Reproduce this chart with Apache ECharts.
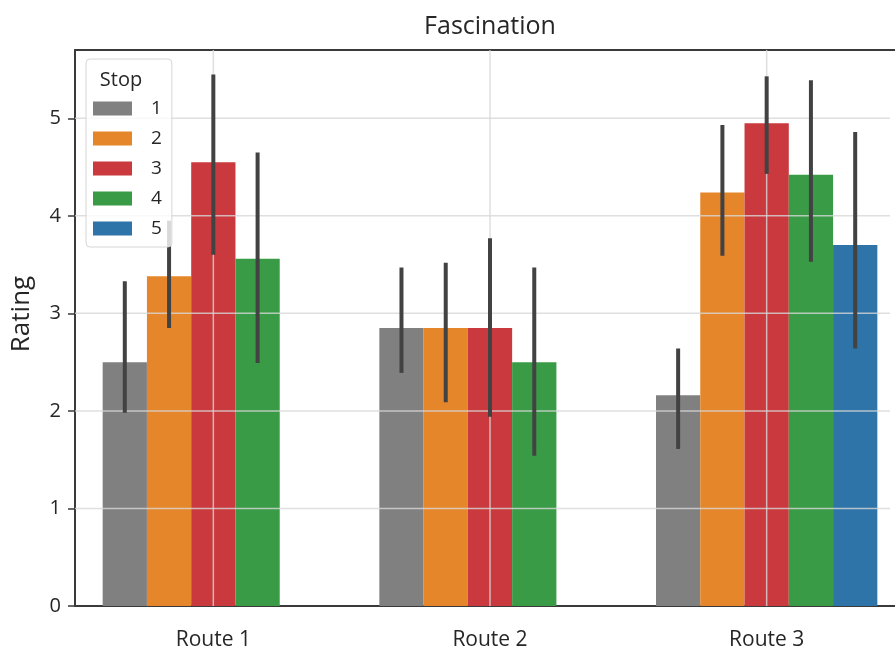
<!DOCTYPE html>
<html>
<head>
<meta charset="utf-8">
<script src="https://cdn.jsdelivr.net/npm/echarts@6/dist/echarts.min.js"></script>
<style>
  html, body { margin: 0; padding: 0; background: #fff; }
  #main { width: 895px; height: 653px; }
</style>
</head>
<body>
<div id="main"></div>
<script>
// data
const routes = ['Route 1', 'Route 2', 'Route 3'];
const stops = ['1', '2', '3', '4', '5'];
const stopColors = ['#808080', '#e6862a', '#c9393d', '#3a9b46', '#2f74a8'];

// mean rating per stop, one value per route
const stop1 = [2.50, 2.85, 2.16];
const stop2 = [3.38, 2.85, 4.24];
const stop3 = [4.55, 2.85, 4.95];
const stop4 = [3.56, 2.50, 4.42];
const stop5 = [null, null, 3.70];

// confidence interval ends
const ciLow1 = [1.98, 2.39, 1.61];
const ciHigh1 = [3.33, 3.47, 2.64];
const ciLow2 = [2.85, 2.09, 3.59];
const ciHigh2 = [3.95, 3.52, 4.93];
const ciLow3 = [3.60, 1.94, 4.43];
const ciHigh3 = [5.45, 3.77, 5.43];
const ciLow4 = [2.49, 1.54, 3.53];
const ciHigh4 = [4.65, 3.47, 5.39];
const ciLow5 = [null, null, 2.64];
const ciHigh5 = [null, null, 4.86];

const yTicks = [0, 1, 2, 3, 4, 5];

const means = [stop1, stop2, stop3, stop4, stop5];
const lows = [ciLow1, ciLow2, ciLow3, ciLow4, ciLow5];
const highs = [ciHigh1, ciHigh2, ciHigh3, ciHigh4, ciHigh5];

const font = '"Open Sans", "Noto Sans", sans-serif';
const spine = { color: '#3a3a3a', width: 2 };
const gridColor = 'rgba(215,215,215,0.8)';

// error bar rows: [route index, low, high, stop index]
let errData = [];
lows.forEach((arr, s) => {
  arr.forEach((lo, r) => {
    if (lo != null) errData.push([r, lo, highs[s][r], s]);
  });
});

let barSeries = means.map((vals, s) => ({
  name: stops[s],
  type: 'bar',
  data: vals.map(v => (v == null ? '-' : v)),
  barGap: '0%',
  barCategoryGap: '20%',
  itemStyle: { color: stopColors[s] },
  z: 2
}));

// grid lines sit on top of the bars (as in the seaborn figure)
let gridSeries = [
  {
    type: 'custom',
    name: 'vgrid',
    z: 3, silent: true,
    data: routes.map((r, i) => [i, 0]),
    encode: { x: 0, y: 1 },
    renderItem: function (params, api) {
      const cs = params.coordSys;
      const x = api.coord([api.value(0), 0])[0];
      return {
        type: 'line',
        shape: { x1: x, y1: cs.y, x2: x, y2: cs.y + cs.height },
        style: { stroke: gridColor, lineWidth: 1.5 }
      };
    }
  },
  {
    type: 'custom',
    name: 'hgrid',
    z: 3, silent: true,
    data: yTicks.filter(v => v > 0).map(v => [0, v]),
    encode: { x: 0, y: 1 },
    renderItem: function (params, api) {
      const cs = params.coordSys;
      const y = api.coord([0, api.value(1)])[1];
      return {
        type: 'line',
        shape: { x1: cs.x, y1: y, x2: cs.x + cs.width, y2: y },
        style: { stroke: gridColor, lineWidth: 1.5 }
      };
    }
  }
];

let myChart = echarts.init(document.getElementById('main'));

let option = {
  animation: false,
  title: [
    {
      text: 'Fascination',
      left: 490, top: 14, padding: 0,
      textAlign: 'center',
      textStyle: { fontFamily: font, fontSize: 25, fontWeight: 'normal', color: '#262626' },
      z: 7
    },
    {
      text: 'Stop',
      left: 121, top: 70, padding: 0,
      textAlign: 'center',
      textStyle: { fontFamily: font, fontSize: 20, fontWeight: 'normal', color: '#262626' },
      z: 7
    }
  ],
  // the plot runs past the right edge of the picture: mask the stray edge line
  graphic: [{
    type: 'rect',
    right: 0, top: 52,
    shape: { width: 5, height: 552 },
    style: { fill: '#fff' },
    z: 100, silent: true
  }],
  legend: {
    data: stops,
    orient: 'vertical',
    left: 86, top: 59,
    padding: [40, 10, 9, 7],
    itemWidth: 39, itemHeight: 14, itemGap: 11,
    icon: 'rect',
    backgroundColor: 'rgba(255,255,255,0.8)',
    borderColor: '#d6d6d6', borderWidth: 1, borderRadius: 4,
    textStyle: { fontFamily: font, fontSize: 19, color: '#262626', padding: [0, 0, 0, 14] },
    z: 6
  },
  grid: {
    left: 75, top: 50, width: 830, height: 556,
    outerBoundsMode: 'none'
  },
  xAxis: [
    {
      type: 'category',
      data: routes,
      axisLine: { lineStyle: spine },
      axisTick: { alignWithLabel: true, length: 7, lineStyle: { color: '#3a3a3a', width: 1.5 } },
      axisLabel: { fontFamily: font, fontSize: 21, color: '#262626', margin: 24 },
      splitLine: { show: false }
    },
    {
      // top spine only
      type: 'category',
      data: routes,
      position: 'top',
      axisLine: { lineStyle: spine },
      axisTick: { show: false },
      axisLabel: { show: false },
      splitLine: { show: false }
    }
  ],
  yAxis: {
    type: 'value',
    min: 0, max: 5.7, interval: 1,
    name: 'Rating',
    nameLocation: 'middle',
    nameGap: 40,
    nameTextStyle: { fontFamily: font, fontSize: 26, color: '#262626', padding: [0, 0, 0, 28] },
    axisLine: { show: true, lineStyle: spine },
    axisTick: { show: true, length: 7, customValues: yTicks, lineStyle: { color: '#3a3a3a', width: 1.5 } },
    axisLabel: {
      fontFamily: font, fontSize: 20, color: '#262626', margin: 14,
      customValues: yTicks
    },
    splitLine: { show: false }
  },
  series: barSeries.concat(gridSeries, [{
    type: 'custom',
    name: 'ci',
    z: 5,
    data: errData,
    encode: { x: 0, y: [1, 2] },
    renderItem: function (params, api) {
      const c = api.value(0);
      const band = api.size([1, 0])[0];
      const top = api.coord([c, api.value(2)]);
      const bot = api.coord([c, api.value(1)]);
      const x = top[0] + (api.value(3) - 2) * 0.16 * band;
      return {
        type: 'line',
        shape: { x1: x, y1: top[1], x2: x, y2: bot[1] },
        style: { stroke: '#424242', lineWidth: 4 }
      };
    }
  }])
};

myChart.setOption(option);
</script>
</body>
</html>
